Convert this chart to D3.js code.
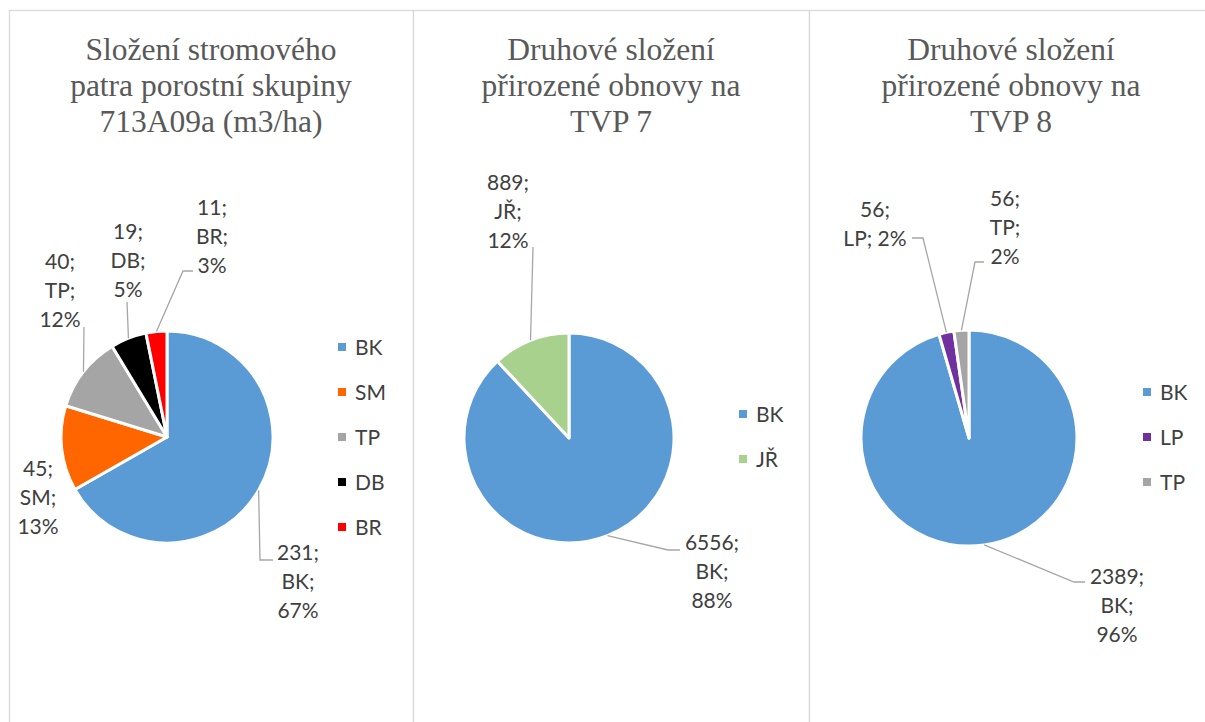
<!DOCTYPE html>
<html>
<head>
<meta charset="utf-8">
<script src="https://cdn.jsdelivr.net/npm/d3@7"></script>
<style>
  html, body { margin: 0; padding: 0; background: #fff; }
  svg { display: block; }
  .title { font-family: "Liberation Serif", "Times New Roman", "DejaVu Serif", serif; }
</style>
</head>
<body>
<svg id="chart" width="1205" height="722"></svg>
<script>
// ---- Data ----
const titles = [
  ["Složení stromového", "patra porostní skupiny", "713A09a (m3/ha)"],
  ["Druhové složení", "přirozené obnovy na", "TVP 7"],
  ["Druhové složení", "přirozené obnovy na", "TVP 8"]
];
const categories1 = ["BK", "SM", "TP", "DB", "BR"];
const values1 = [231, 45, 40, 19, 11];
const colors1 = ["#5B9BD5", "#FF6600", "#A5A5A5", "#000000", "#FF0000"];

const categories2 = ["BK", "JŘ"];
const values2 = [6556, 889];
const colors2 = ["#5B9BD5", "#A9D18E"];

const categories3 = ["BK", "LP", "TP"];
const values3 = [2389, 56, 56];
const colors3 = ["#5B9BD5", "#7030A0", "#A5A5A5"];

// ---- Layout (positions relative to each pie centre) ----
const panels = [
  { x0: 9,   x1: 413,  cx: 167, cy: 437, r: 106, legendX: 338, legendY: 347,
    labels: [
      { dx: 131, dy: 144, leader: [[93, 123], [106, 123]] },
      { dx: -129, dy: 60, leader: null },
      { dx: -107, dy: -147, leader: [[-83, -110]] },
      { dx: -39, dy: -177, leader: [[-40, -135]] },
      { dx: 45, dy: -201, leader: [[16, -166], [26, -166]] }
    ] },
  { x0: 413, x1: 809,  cx: 569, cy: 438, r: 105, legendX: 739, legendY: 414,
    labels: [
      { dx: 143, dy: 133, leader: [[99, 112], [111, 112]] },
      { dx: -61, dy: -227, leader: [[-36, -191]] }
    ] },
  { x0: 809, x1: 1213, cx: 969, cy: 438, r: 108, legendX: 1143, legendY: 392,
    labels: [
      { dx: 148, dy: 167, leader: [[105, 144], [116, 144]] },
      { dx: -94, dy: -214, leader: [[-46, -200], [-57, -200]], groups: [[0], [1, 2]] },
      { dx: 36, dy: -211, leader: [[6, -176], [15, -176]] }
    ] }
];

const datasets = [
  { cats: categories1, vals: values1, cols: colors1 },
  { cats: categories2, vals: values2, cols: colors2 },
  { cats: categories3, vals: values3, cols: colors3 }
];

const svg = d3.select("#chart");
const labelFont = "Lato, 'Open Sans', sans-serif";
const labelSize = 21;
const lineH = 29;

panels.forEach((p, i) => {
  const ds = datasets[i];
  const g = svg.append("g");

  // panel border
  g.append("rect")
    .attr("x", p.x0 + 0.5).attr("y", 10.5)
    .attr("width", p.x1 - p.x0).attr("height", 740)
    .attr("fill", "#fff").attr("stroke", "#d9d9d9").attr("stroke-width", 1.3);

  // title
  const cxTitle = (p.x0 + p.x1) / 2;
  const t = g.append("text")
    .attr("class", "title")
    .attr("text-anchor", "middle")
    .attr("font-size", 31.5)
    .attr("fill", "#595959");
  titles[i].forEach((line, k) => {
    t.append("tspan").attr("x", cxTitle).attr("y", 60 + k * 36).text(line);
  });

  // pie
  const data = ds.cats.map((c, k) => ({ cat: c, val: ds.vals[k], col: ds.cols[k], idx: k }));
  const total = d3.sum(ds.vals);
  const pie = d3.pie().value(d => d.val).sort(null);
  const arcs = pie(data);
  const arc = d3.arc().innerRadius(0).outerRadius(p.r);
  const pg = g.append("g").attr("transform", `translate(${p.cx},${p.cy})`);
  pg.selectAll("path.slice").data(arcs).join("path")
    .attr("class", "slice")
    .attr("d", arc)
    .attr("fill", d => d.data.col)
    .attr("stroke", "#fff").attr("stroke-width", 3).attr("stroke-linejoin", "round");

  // leaders
  arcs.forEach((a, k) => {
    const L = p.labels[k];
    if (!L.leader) return;
    const mid = (a.startAngle + a.endAngle) / 2;
    const start = [Math.sin(mid) * p.r, -Math.cos(mid) * p.r];
    const pts = [start].concat(L.leader);
    pg.append("path")
      .attr("d", d3.line()(pts))
      .attr("fill", "none").attr("stroke", "#A6A6A6").attr("stroke-width", 1.3);
  });

  // labels
  arcs.forEach((a, k) => {
    const L = p.labels[k];
    const pct = Math.round(a.data.val / total * 100);
    const parts = [a.data.val + ";", a.data.cat + ";", pct + "%"];
    const groups = L.groups || [[0], [1], [2]];
    const lines = groups.map(gr => gr.map(j => parts[j]).join(" "));
    const n = lines.length;
    const txt = pg.append("text")
      .attr("text-anchor", "middle")
      .attr("font-family", labelFont)
      .attr("font-size", labelSize)
      .attr("fill", "#404040");
    lines.forEach((ln, j) => {
      txt.append("tspan")
        .attr("x", L.dx)
        .attr("y", L.dy + (j - (n - 1) / 2) * lineH)
        .attr("dy", "0.36em")
        .text(ln);
    });
  });

  // legend
  const lg = g.append("g");
  data.forEach((d, k) => {
    const y = p.legendY + k * 45;
    lg.append("rect")
      .attr("x", p.legendX).attr("y", y - 4)
      .attr("width", 8).attr("height", 8)
      .attr("fill", d.col);
    lg.append("text")
      .attr("x", p.legendX + 17).attr("y", y)
      .attr("dy", "0.36em")
      .attr("font-family", labelFont)
      .attr("font-size", labelSize)
      .attr("fill", "#404040")
      .text(d.cat);
  });
});
</script>
</body>
</html>
